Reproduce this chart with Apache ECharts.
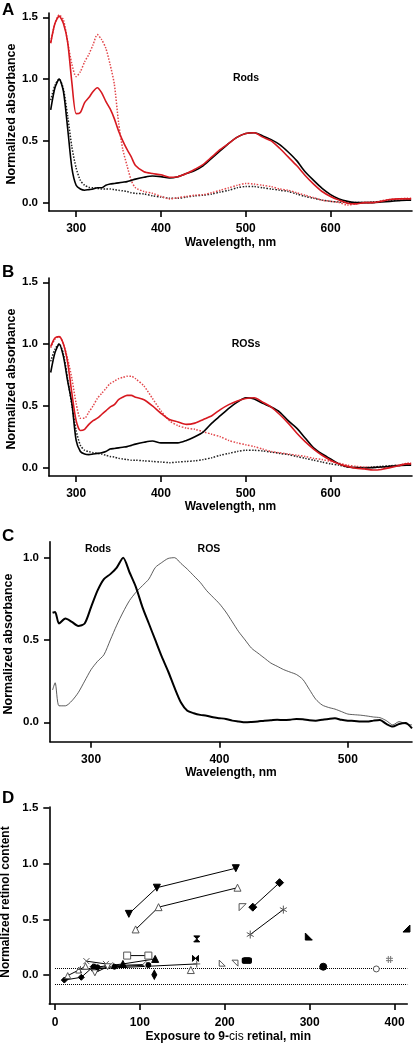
<!DOCTYPE html>
<html><head><meta charset="utf-8">
<script src="https://cdn.jsdelivr.net/npm/echarts@6/dist/echarts.min.js"></script>
<style>html,body{margin:0;padding:0;background:#fff}#c{width:414px;height:1045px}</style>
</head><body><div id="c"></div>
<script>
// ---------- Panel A / B wavelengths ----------
const wlAB = [270,275,280,285,290,295,300,305,310,315,320,325,330,335,340,345,350,355,360,365,370,380,390,400,410,420,430,440,450,460,470,480,490,500,510,520,530,540,550,560,570,580,590,600,610,620,630,640,650,660,670,680,690,695];
// Panel A (Rods)
const rodsBlackSolid = [0.75,0.93,1.0,0.9,0.6,0.28,0.14,0.11,0.10,0.105,0.11,0.12,0.12,0.14,0.15,0.155,0.16,0.165,0.17,0.18,0.19,0.205,0.215,0.21,0.2,0.21,0.235,0.26,0.3,0.36,0.42,0.48,0.53,0.56,0.565,0.54,0.51,0.47,0.41,0.34,0.25,0.18,0.115,0.065,0.03,0.01,0.0,0.0,0.0,0.005,0.01,0.015,0.02,0.02];
const rodsRedSolid = [1.29,1.45,1.51,1.45,1.3,0.97,0.72,0.73,0.81,0.85,0.9,0.93,0.89,0.82,0.76,0.68,0.58,0.5,0.43,0.37,0.3,0.25,0.235,0.225,0.205,0.21,0.235,0.27,0.31,0.37,0.43,0.48,0.53,0.56,0.565,0.53,0.5,0.44,0.37,0.3,0.22,0.15,0.09,0.05,0.02,-0.005,-0.01,0.0,0.0,0.01,0.025,0.03,0.03,0.03];
const rodsRedDotted = [1.3,1.45,1.52,1.48,1.3,1.12,1.02,1.06,1.14,1.2,1.28,1.36,1.32,1.25,1.12,0.96,0.65,0.43,0.3,0.18,0.12,0.09,0.075,0.05,0.03,0.04,0.05,0.06,0.065,0.08,0.1,0.12,0.14,0.155,0.15,0.14,0.13,0.11,0.1,0.08,0.06,0.04,0.02,0.01,0.0,-0.02,-0.01,0.0,0.0,0.015,0.025,0.03,0.035,0.035];
const rodsBlackDotted = [0.83,0.95,1.0,0.92,0.7,0.45,0.28,0.18,0.14,0.125,0.12,0.115,0.11,0.11,0.11,0.105,0.1,0.095,0.09,0.08,0.075,0.07,0.055,0.045,0.035,0.035,0.045,0.055,0.06,0.07,0.085,0.1,0.12,0.13,0.13,0.12,0.11,0.1,0.09,0.07,0.05,0.035,0.02,0.01,0.005,0.0,0.0,0.0,0.005,0.01,0.015,0.02,0.02,0.02];
// Panel B (ROSs)
const rosBlackSolid = [0.77,0.93,1.0,0.9,0.7,0.52,0.22,0.13,0.11,0.105,0.11,0.115,0.12,0.13,0.15,0.155,0.16,0.165,0.17,0.18,0.19,0.205,0.215,0.2,0.2,0.2,0.22,0.25,0.29,0.36,0.42,0.48,0.53,0.565,0.555,0.52,0.49,0.45,0.38,0.32,0.24,0.16,0.11,0.07,0.03,0.005,0.0,-0.005,0.0,0.005,0.01,0.015,0.02,0.02];
const rosRedSolid = [0.98,1.05,1.06,1.0,0.85,0.6,0.38,0.3,0.31,0.35,0.38,0.4,0.43,0.46,0.49,0.51,0.55,0.57,0.585,0.585,0.57,0.55,0.5,0.44,0.39,0.37,0.35,0.36,0.39,0.42,0.47,0.51,0.54,0.56,0.565,0.53,0.49,0.43,0.36,0.28,0.21,0.15,0.1,0.06,0.03,0.01,-0.005,-0.01,-0.02,-0.015,0.0,0.015,0.03,0.03];
const rosRedDotted = [0.97,1.04,1.06,1.0,0.88,0.72,0.52,0.4,0.4,0.45,0.5,0.56,0.6,0.64,0.68,0.7,0.72,0.73,0.74,0.74,0.72,0.66,0.56,0.46,0.38,0.34,0.32,0.31,0.29,0.27,0.25,0.22,0.2,0.185,0.17,0.15,0.13,0.12,0.11,0.1,0.09,0.075,0.065,0.05,0.035,0.02,0.01,0.005,0.0,0.0,0.01,0.02,0.035,0.04];
const rosBlackDotted = [0.86,0.96,1.0,0.92,0.72,0.5,0.3,0.18,0.14,0.13,0.12,0.115,0.11,0.1,0.09,0.085,0.075,0.07,0.065,0.06,0.06,0.055,0.05,0.045,0.04,0.045,0.05,0.055,0.065,0.08,0.1,0.115,0.13,0.14,0.14,0.135,0.125,0.115,0.105,0.09,0.075,0.06,0.045,0.03,0.02,0.005,0.0,0.0,0.005,0.01,0.015,0.02,0.025,0.025];
// ---------- Panel C ----------
const wlC = [270,272,275,280,285,290,295,300,305,310,315,320,325,330,335,340,345,350,355,360,365,370,375,380,385,390,395,400,405,410,415,420,425,430,435,440,445,450,455,460,465,470,475,480,485,490,495,500,505,510,515,520,525,530,535,540,545,550];
const cRods = [0.665,0.67,0.6,0.63,0.61,0.585,0.6,0.7,0.8,0.87,0.9,0.94,1.0,0.91,0.82,0.7,0.6,0.5,0.4,0.31,0.21,0.12,0.07,0.055,0.045,0.04,0.03,0.025,0.02,0.01,0.005,0.0,0.002,0.005,0.01,0.012,0.015,0.014,0.016,0.02,0.018,0.012,0.01,0.015,0.02,0.024,0.015,0.01,0.008,0.005,0.004,0.01,0.014,-0.01,-0.026,-0.01,-0.005,-0.037];
const cROS = [0.196,0.24,0.1,0.1,0.13,0.18,0.25,0.32,0.37,0.41,0.5,0.59,0.67,0.74,0.79,0.83,0.87,0.94,0.97,0.995,1.0,0.965,0.93,0.89,0.85,0.8,0.76,0.72,0.67,0.61,0.55,0.5,0.45,0.42,0.39,0.36,0.34,0.32,0.305,0.29,0.26,0.2,0.14,0.105,0.09,0.08,0.065,0.05,0.046,0.043,0.038,0.032,0.028,0.01,-0.016,0.004,-0.01,-0.016];
// ---------- Panel D ----------
const dDownTri = [[87,0.55],[120,0.785],[213,0.96]];
const dUpTriOpen = [[95,0.41],[122,0.61],[215,0.785]];
const dDiamond = [[233,0.61],[264.5,0.83]];
const dAsterisk = [[230,0.364],[269,0.588]];
const dSquares = [[85,0.175],[110,0.175]];
const dTriUp = [[47,0.07],[80,0.1],[118,0.145]];
const dSmallDiamond = [[11,-0.045],[31,-0.02],[45,0.075]];
const dOpenTri2 = [[15,-0.005],[28,0.045],[36,0.08]];
const dCross = [[37,0.125],[60,0.1]];
const dDownTriOpen = [[47,0.02],[62,0.075]];
const dOpenDiamond = [[68,0.085],[107,0.095]];
const dDots = [[50,0.07],[70,0.075],[110,0.09]];
const dPlus = [[30,0.05],[167,0.1]];
const dGrayCornerTri = [[221,0.61]];
const dHourglass = [[167,0.325]];
const dBowtie = [[165.5,0.15]];
const dFilledCorner1 = [[299,0.346]];
const dFilledCorner2 = [[414,0.418]];
const dOpenCorner1 = [[197,0.107]];
const dOpenCorner2 = [[212,0.107]];
const dBlob = [[226,0.13]];
const dFilledCircle = [[316,0.075]];
const dOpenCircle = [[378.5,0.055]];
const dHash = [[394,0.14]];
const dOpenTriSingle = [[160,0.045]];
const dThinDiamond = [[117,0.003]];
const dRefLines = [0.06,-0.085];

const ticksAB = [300,400,500,600], ticksC = [300,400,500], ticksD = [0,100,200,300,400];
const yTicksAB = [0,0.5,1.0,1.5], yTicksC = [0,0.5,1.0], yTicksD = [0,0.5,1.0,1.5];

const FF = '"Liberation Sans", Arial, Helvetica, sans-serif';
const RED = '#d71920', RED_D = '#e2474b', BLK = '#000', GRY = '#555';

function zip(xs, ys){ return xs.map((x,i)=>[x, ys[i]]); }

function xAx(gi, min, max, ticks, name, gap, margin){
  return {type:'value', gridIndex:gi, min, max,
    axisLine:{show:true, onZero:false, lineStyle:{color:'#000', width:1.6}},
    axisTick:{show:true, length:6, customValues:ticks, lineStyle:{color:'#000', width:1.6}},
    axisLabel:{customValues:ticks, margin:margin, fontSize:12, fontWeight:'bold', color:'#000', fontFamily:FF},
    splitLine:{show:false}, name, nameLocation:'middle', nameGap:gap,
    nameTextStyle:{fontSize:12, fontWeight:'bold', color:'#000', fontFamily:FF,
      rich:{b:{fontSize:12, fontWeight:'bold', fontFamily:FF, color:'#000'}, n:{fontSize:12, fontWeight:'normal', fontFamily:FF, color:'#000'}}}};
}
function yAx(gi, min, max, ticks){
  return {type:'value', gridIndex:gi, min, max,
    axisLine:{show:true, onZero:false, lineStyle:{color:'#000', width:1.6}},
    axisTick:{show:true, length:6, customValues:ticks, lineStyle:{color:'#000', width:1.6}},
    axisLabel:{customValues:ticks, margin:11, fontSize:11.5, fontWeight:'bold', color:'#000', fontFamily:FF, formatter:v=>v.toFixed(1)},
    splitLine:{show:false}};
}
function ln(gi, xs, ys, color, width, type, z){
  return {type:'line', xAxisIndex:gi, yAxisIndex:gi, data:zip(xs,ys), showSymbol:false, symbol:'none', smooth:0.25,
    lineStyle:{color, width, type}, z:z||2, silent:true};
}
function sc(data, symbol, o){
  o = o||{};
  return {type:'line', xAxisIndex:3, yAxisIndex:3, data, symbol, showSymbol:true,
    symbolSize:o.size||7, symbolRotate:o.rot||0, symbolKeepAspect:true,
    itemStyle:{color:o.fill||'#000', borderColor:o.stroke||'#000', borderWidth:o.bw==null?1:o.bw},
    lineStyle:{color:'#000', width:1}, z:5, silent:true};
}
const P = {
  asterisk:'path://M3,0 L3,6 M0.4,1.5 L5.6,4.5 M0.4,4.5 L5.6,1.5',
  hash:'path://M2,0 L2,6 M4,0 L4,6 M0,2 L6,2 M0,4 L6,4',
  hourglass:'path://M0,0 L6,0 L0,6 L6,6 Z',
  bowtie:'path://M0,0 L6,6 L6,0 L0,6 Z',
  cornerBL:'path://M0,0 L0,6 L6,6 Z',
  cornerBR:'path://M6,0 L6,6 L0,6 Z',
  cornerTL:'path://M0,0 L6,0 L0,6 Z',
  cornerTR:'path://M0,0 L6,0 L6,6 Z',
  plus:'path://M3,0 L3,6 M0,3 L6,3',
  cross:'path://M0,0 L6,6 M6,0 L0,6'
};

const series = [
  ln(0, wlAB, rodsBlackDotted, '#222', 1.5, 'dotted', 2),
  ln(0, wlAB, rodsRedDotted, RED_D, 1.5, 'dotted', 3),
  ln(0, wlAB, rodsBlackSolid, BLK, 1.6, 'solid', 4),
  ln(0, wlAB, rodsRedSolid, RED, 1.6, 'solid', 5),
  ln(1, wlAB, rosBlackDotted, '#222', 1.5, 'dotted', 2),
  ln(1, wlAB, rosRedDotted, RED_D, 1.5, 'dotted', 3),
  ln(1, wlAB, rosBlackSolid, BLK, 1.6, 'solid', 4),
  ln(1, wlAB, rosRedSolid, RED, 1.6, 'solid', 5),
  ln(2, wlC, cROS, '#333', 0.8, 'solid', 2),
  ln(2, wlC, cRods, BLK, 2, 'solid', 3),
  {type:'line', xAxisIndex:3, yAxisIndex:3, data:[], silent:true,
   markLine:{silent:true, symbol:'none', label:{show:false}, lineStyle:{color:'#000', width:1, type:'dotted'},
     data: dRefLines.map(v=>[{coord:[0,v]},{coord:[415,v]}])}},
  sc(dDownTri, 'triangle', {rot:180}),
  sc(dUpTriOpen, 'triangle', {fill:'#fff', stroke:GRY}),
  sc(dDiamond, 'diamond', {size:8}),
  sc(dAsterisk, P.asterisk, {fill:'none', stroke:GRY, size:8}),
  sc(dSquares, 'rect', {fill:'#fff', stroke:GRY, size:7}),
  sc(dTriUp, 'triangle', {}),
  sc(dSmallDiamond, 'diamond', {size:6}),
  sc(dOpenTri2, 'triangle', {fill:'#fff', stroke:GRY, size:6}),
  sc(dCross, P.cross, {fill:'none', stroke:GRY, size:6}),
  sc(dDownTriOpen, 'triangle', {rot:180, fill:'#fff', stroke:GRY, size:6}),
  sc(dOpenDiamond, 'diamond', {fill:'#fff', stroke:GRY, size:6}),
  sc(dDots, 'circle', {size:5}),
  sc(dPlus, P.plus, {fill:'none', stroke:GRY, size:7}),
  sc(dGrayCornerTri, P.cornerTL, {fill:'#fff', stroke:GRY, size:7}),
  sc(dHourglass, P.hourglass, {size:6}),
  sc(dBowtie, P.bowtie, {size:6}),
  sc(dFilledCorner1, P.cornerBL, {size:7}),
  sc(dFilledCorner2, P.cornerBR, {size:7}),
  sc(dOpenCorner1, P.cornerBL, {fill:'#fff', stroke:GRY, size:6}),
  sc(dOpenCorner2, P.cornerTR, {fill:'#fff', stroke:GRY, size:6}),
  sc(dBlob, 'roundRect', {size:[9,6]}),
  sc(dFilledCircle, 'circle', {size:7}),
  sc(dOpenCircle, 'circle', {fill:'#fff', stroke:GRY, size:6}),
  sc(dHash, P.hash, {fill:'none', stroke:'#777', size:7}),
  sc(dOpenTriSingle, 'triangle', {fill:'#fff', stroke:GRY, size:7}),
  sc(dThinDiamond, 'diamond', {size:[5,9]})
];

function txt(t, x, y, size, opts){
  opts = opts||{};
  return {type:'text', x, y, rotation:opts.rot||0, silent:true, z:20,
    style:{text:t, fill:'#000', font:'bold '+size+'px '+FF, align:opts.align||'center', verticalAlign:opts.va||'middle'}};
}

const chart = echarts.init(document.getElementById('c'), null, {renderer:'canvas'});
chart.setOption({
  animation:false,
  backgroundColor:'#fff',
  grid:[
    {left:49, top:13, width:363, height:198},
    {left:49, top:278, width:363, height:198},
    {left:50, top:541.7, width:362, height:200},
    {left:49.3, top:807, width:358, height:197}
  ],
  xAxis:[
    xAx(0, 268, 696, ticksAB, 'Wavelength, nm', 26, 12),
    xAx(1, 268, 696, ticksAB, 'Wavelength, nm', 25, 12),
    xAx(2, 268, 550, ticksC, 'Wavelength, nm', 24, 12),
    xAx(3, -6.7, 415, ticksD, '{b|Exposure to 9-}{n|cis}{b| retinal, min}', 27, 12.5)
  ],
  yAxis:[
    yAx(0, -0.068, 1.535, yTicksAB),
    yAx(1, -0.068, 1.535, yTicksAB),
    yAx(2, -0.118, 1.097, yTicksC),
    yAx(3, -0.26, 1.51, yTicksD)
  ],
  graphic:[
    txt('A', 2, 2, 17, {align:'left', va:'top'}),
    txt('B', 2, 264, 17, {align:'left', va:'top'}),
    txt('C', 2, 528, 17, {align:'left', va:'top'}),
    txt('D', 2, 790, 17, {align:'left', va:'top'}),
    txt('Normalized absorbance', 12, 114, 12.5, {rot:Math.PI/2}),
    txt('Normalized absorbance', 12, 379, 12.5, {rot:Math.PI/2}),
    txt('Normalized absorbance', 9, 644, 12.5, {rot:Math.PI/2}),
    txt('Normalized retinol content', 6, 902, 12, {rot:Math.PI/2}),
    txt('Rods', 246, 78, 10.5),
    txt('ROSs', 246, 344, 10.5),
    txt('Rods', 98, 549, 10.5),
    txt('ROS', 209, 549, 10.5)
  ],
  series
});
</script></body></html>
